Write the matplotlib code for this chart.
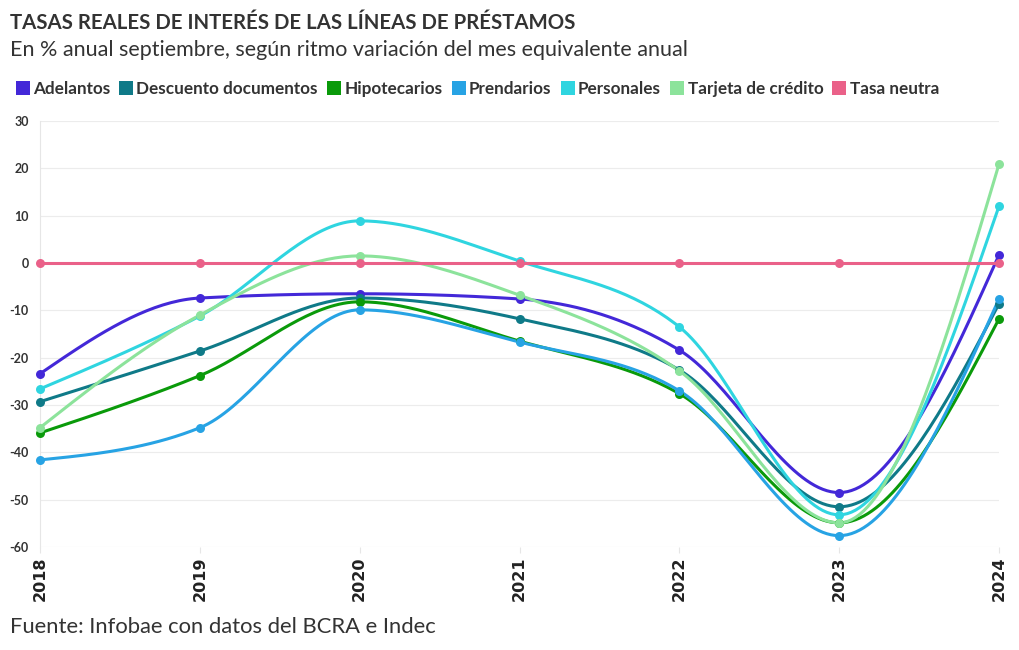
import numpy as np
import matplotlib
matplotlib.use('Agg')
import matplotlib.pyplot as plt
from matplotlib.lines import Line2D

plt.rcParams['font.family'] = ['Lato', 'DejaVu Sans']

years = [2018, 2019, 2020, 2021, 2022, 2023, 2024]

adelantos = [-23.4, -7.4, -6.5, -7.6, -18.4, -48.5, 1.7]
descuento = [-29.3, -18.6, -7.4, -11.8, -22.6, -51.5, -8.6]
hipotecarios = [-35.9, -23.8, -8.2, -16.5, -27.6, -54.9, -11.8]
prendarios = [-41.6, -34.8, -9.9, -16.7, -27.0, -57.6, -7.6]
personales = [-26.6, -11.2, 8.9, 0.4, -13.5, -53.2, 12.0]
tarjeta = [-34.8, -11.0, 1.5, -6.8, -22.8, -54.9, 20.9]
tasa_neutra = [0, 0, 0, 0, 0, 0, 0]

names = ['Adelantos', 'Descuento documentos', 'Hipotecarios', 'Prendarios',
         'Personales', 'Tarjeta de crédito', 'Tasa neutra']
series = [adelantos, descuento, hipotecarios, prendarios, personales, tarjeta, tasa_neutra]
colors = ['#4328d8', '#0f7a88', '#0a9a0a', '#27a3e4', '#2fd5e0', '#8ce39b', '#ea6189']


def monotone_x(x, y, n=40):
    # d3 curveMonotoneX style cubic
    x = np.asarray(x, float)
    y = np.asarray(y, float)
    h = np.diff(x)
    s = np.diff(y) / h
    m = np.zeros(len(x))
    for i in range(1, len(x) - 1):
        p = (s[i - 1] * h[i] + s[i] * h[i - 1]) / (h[i - 1] + h[i])
        m[i] = (np.sign(s[i - 1]) + np.sign(s[i])) * min(abs(s[i - 1]), abs(s[i]), 0.5 * abs(p))
    m[0] = (3 * s[0] - m[1]) / 2
    m[-1] = (3 * s[-1] - m[-2]) / 2
    xs, ys = [], []
    for i in range(len(x) - 1):
        t = np.linspace(0, 1, n)
        dx = h[i] / 3
        p0 = np.array([x[i], y[i]])
        p1 = np.array([x[i] + dx, y[i] + dx * m[i]])
        p2 = np.array([x[i + 1] - dx, y[i + 1] - dx * m[i + 1]])
        p3 = np.array([x[i + 1], y[i + 1]])
        b = ((1 - t) ** 3)[:, None] * p0 + (3 * (1 - t) ** 2 * t)[:, None] * p1 \
            + (3 * (1 - t) * t ** 2)[:, None] * p2 + (t ** 3)[:, None] * p3
        xs.extend(b[:, 0])
        ys.extend(b[:, 1])
    return xs, ys


fig = plt.figure(figsize=(10.2, 6.5), dpi=100)
ax = fig.add_axes([40 / 1020, 1 - 547 / 650, (999 - 40) / 1020, (547 - 121) / 650])

for vals, c in zip(series, colors):
    sx, sy = monotone_x(years, vals)
    ax.plot(sx, sy, color=c, lw=2.2, solid_capstyle='round', clip_on=False)
    ax.scatter(years, vals, s=42, color=c, zorder=3, clip_on=False, linewidths=0)

ax.set_xlim(2018, 2024)
ax.set_ylim(-60, 30)
ax.set_yticks(range(-60, 31, 10))
ax.set_yticklabels([str(v) for v in range(-60, 31, 10)], fontsize=9, fontweight='bold', color='#333333')
ax.set_xticks(years)
ax.set_xticklabels([str(y) for y in years], rotation=90, fontsize=11.5, fontweight='bold', color='#222222',
                   family='DejaVu Sans')
ax.tick_params(axis='y', length=0, pad=8)
ax.tick_params(axis='x', length=4, color='#e6e6e6', pad=3)
ax.grid(axis='y', color='#ececec', lw=0.8)
for sp in ['top', 'right', 'bottom']:
    ax.spines[sp].set_visible(False)
ax.spines['left'].set_color('#e6e6e6')
ax.set_axisbelow(True)

fig.text(10 / 1020, 1 - 23 / 650, 'TASAS REALES DE INTERÉS DE LAS LÍNEAS DE PRÉSTAMOS',
         fontsize=14.7, fontweight='bold', color='#333333', va='center', ha='left')
fig.text(10 / 1020, 1 - 50 / 650, 'En % anual septiembre, según ritmo variación del mes equivalente anual',
         fontsize=15.5, color='#333333', va='center', ha='left')
fig.text(10 / 1020, 1 - 627 / 650, 'Fuente: Infobae con datos del BCRA e Indec',
         fontsize=15.8, color='#333333', va='center', ha='left')

handles = [Line2D([0], [0], marker='s', ls='none', markersize=10, markerfacecolor=c,
                  markeredgewidth=0) for c in colors]
leg = fig.legend(handles, names, loc='center left', bbox_to_anchor=(2 / 1020, 1 - 89 / 650),
                 ncol=7, frameon=False, handlelength=0.6, handletextpad=0.3, columnspacing=0.65,
                 prop={'family': ['Lato', 'DejaVu Sans'], 'weight': 'bold', 'size': 12.3})
for t in leg.get_texts():
    t.set_color('#333333')

fig.savefig('out.png', dpi=100)
